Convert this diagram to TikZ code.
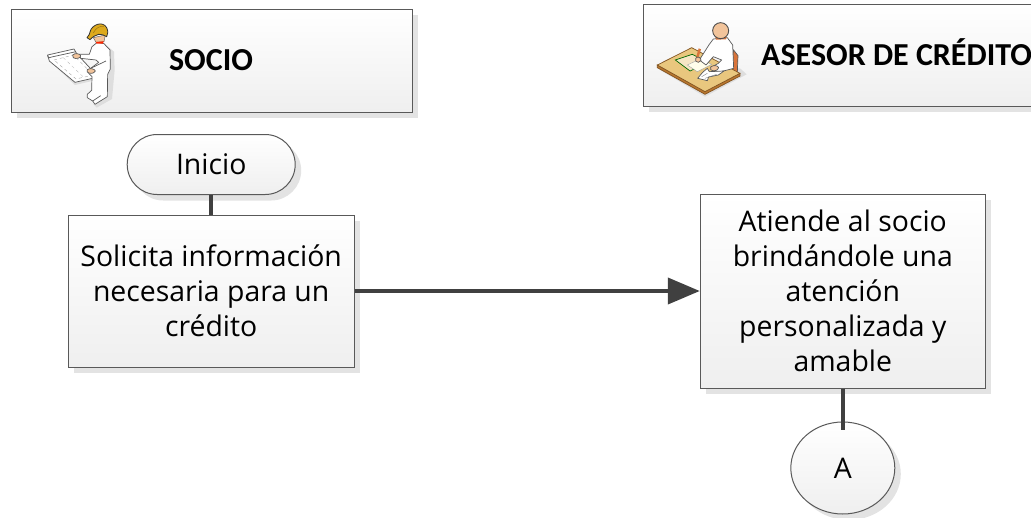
\documentclass[tikz,border=0pt]{standalone}
\usepackage{fontspec}
\setmainfont{Open Sans}
\newfontfamily\headfont{Carlito}
\usetikzlibrary{shadows,shapes.misc,shapes.geometric,arrows.meta}
\definecolor{edgegray}{HTML}{595959}
\definecolor{linkgray}{HTML}{404040}
\definecolor{shadegray}{HTML}{E3E3E3}
\definecolor{boxlow}{HTML}{EFEFEF}
\definecolor{helmet}{HTML}{DDA91C}
\definecolor{skin}{HTML}{F2C49B}
\definecolor{desktop}{HTML}{E9C77E}
\definecolor{deskedge}{HTML}{B9772F}
\definecolor{chairc}{HTML}{D9743A}
\tikzset{
  softshadow/.style={general shadow={shadow xshift=6pt,shadow yshift=-6pt,fill=shadegray}},
  shape base/.style={draw=edgegray,line width=1pt,top color=white,bottom color=boxlow,softshadow,inner sep=0pt,
    align=center,font=\fontsize{28.4}{35}\selectfont,text=black},
  header/.style={rectangle,shape base},
  headtext/.style={font=\headfont\bfseries\fontsize{32}{36}\selectfont,inner sep=0pt},
  stepbox/.style={rectangle,shape base},
  startbox/.style={rounded rectangle,shape base},
  linkdot/.style={ellipse,shape base},
  link/.style={draw=linkgray,line width=4pt},
  iconline/.style={draw=black!65,line width=0.7pt,line join=round},
  iconshade/.style={fill=black!13},
}
\begin{document}
\begin{tikzpicture}[x=1pt,y=-1pt]
\useasboundingbox (0,0) rectangle (1031,517);
\clip (0,0) rectangle (1031,517);
% headers
\node[header,minimum width=401pt,minimum height=103pt] (socio) at (211.5,60.5) {};
\node[header,minimum width=397pt,minimum height=102pt] (asesor) at (841.5,55) {};
\node[headtext] (sociot) at (211,60) {SOCIO};
\node[headtext,anchor=west] (asesort) at (761,52) {ASESOR DE CRÉDITO};
% flow shapes
\node[startbox,minimum width=168pt,minimum height=60pt,rounded rectangle arc length=180] (inicio) at (211.2,164.5) {Inicio};
\node[stepbox,minimum width=286pt,minimum height=152pt] (solicita) at (211.2,291) {Solicita información\\necesaria para un\\crédito};
\node[stepbox,minimum width=285pt,minimum height=194pt] (atiende) at (842.8,291) {Atiende al socio\\brindándole una\\atención\\personalizada y\\amable};
\node[linkdot,minimum width=104pt,minimum height=92pt] (a) at (842.8,468) {A};
% connectors
\draw[link] (inicio.south) -- (solicita.north);
\draw[link,-{Triangle[length=32pt,width=26pt]}] (solicita.east) -- (atiende.west);
\draw[link,shorten >=-8pt] (atiende.south) -- (a.north);
% worker icon
\begin{scope}[shift={(30,5)},x=0.3333pt,y=-0.3333pt]
  \fill[iconshade] (228,120) -- (252,140) -- (254,195) -- (246,282) -- (200,308) -- (190,298) -- (232,270) -- cycle;
  \fill[iconshade] (62,170) -- (135,240) -- (212,222) -- (205,210) -- cycle;
  \path[iconline,fill=white] (53,150) -- (132,132) -- (140,146) -- (205,216) -- (135,232) -- (58,168) -- cycle;
  \draw[iconline] (53,150) .. controls (52,160) and (62,160) .. (65,156) -- (138,140);
  \draw[black!35,dashed,line width=0.4pt] (72,165) -- (130,150) -- (190,210) -- (138,222) -- cycle;
  \draw[black!30,dashed,line width=0.3pt] (100,158) -- (160,216);
  \path[iconline,fill=white] (202,112) -- (222,116) -- (240,135) -- (241,192) -- (233,208) -- (232,275) -- (195,298) -- (188,288) -- (172,278) -- (172,268) -- (185,256) -- (186,215) -- (176,205) -- (182,190) -- (206,172) -- (198,165) -- (152,160) -- (148,148) -- (178,148) -- (186,125) -- cycle;
  \draw[iconline] (188,288) -- (212,272) (182,190) -- (228,168);
  \path[iconline,fill=skin] (128,150) .. controls (135,143) and (150,146) .. (152,152) .. controls (152,160) and (138,163) .. (130,158) -- cycle;
  \path[iconline,fill=skin] (172,194) .. controls (180,188) and (195,192) .. (196,198) .. controls (192,207) and (178,207) .. (172,201) -- cycle;
  \path[fill=skin,draw=black!60,line width=0.5pt] (190,98) -- (226,90) -- (222,110) -- (198,112) -- cycle;
  \fill[red!70!orange] (198,111) -- (221,109) -- (219,116) -- (200,116) -- cycle;
  \path[draw=black!80,line width=0.8pt,line join=round,fill=helmet] (171,98) .. controls (177,92) and (179,86) .. (181,78) .. controls (186,60) and (218,46) .. (230,68) .. controls (235,78) and (234,88) .. (230,95) .. controls (222,90) and (214,87) .. (206,88) .. controls (196,90) and (188,96) .. (180,104) -- cycle;
  \draw[helmet!70!black,line width=0.5pt] (190,84) .. controls (197,70) and (208,62) .. (222,64);
\end{scope}
% adviser icon
\begin{scope}[shift={(650,15)},x=0.3333pt,y=-0.3333pt]
  \fill[iconshade] (30,165) -- (165,245) -- (290,178) -- (270,160) -- cycle;
  \path[iconline,fill=chairc] (250,104) -- (264,122) -- (262,172) -- (246,165) -- cycle;
  \path[draw=deskedge!70!black,line width=0.7pt,fill=deskedge] (22,150) -- (22,158) -- (165,238) -- (270,183) -- (270,175) -- (165,228) -- cycle;
  \path[draw=deskedge!70!black,line width=0.7pt,fill=desktop] (22,150) -- (125,98) -- (270,175) -- (165,230) -- cycle;
  \path[draw=green!40!black,line width=0.7pt,fill=desktop!45!white] (76,135) -- (127,118) -- (175,143) -- (120,168) -- cycle;
  \path[draw=black!35,line width=0.4pt,fill=white!92!yellow] (112,150) -- (150,132) -- (185,148) -- (142,170) -- cycle;
  \path[iconline,fill=white] (190,72) -- (232,68) -- (248,90) -- (251,160) -- (205,172) -- (182,158) -- (205,145) -- (215,135) -- (190,125) -- (168,150) -- (148,135) -- (178,88) -- cycle;
  \path[iconline,fill=skin] (182,156) .. controls (190,150) and (202,150) .. (206,158) .. controls (204,168) and (188,170) .. (182,164) -- cycle;
  \fill[chairc] (146,100) -- (153,103) -- (144,132) -- (138,136) -- (138,128) -- cycle;
  \path[iconline,fill=skin] (137,130) .. controls (142,122) and (154,128) .. (153,136) .. controls (150,144) and (140,144) .. (137,138) -- cycle;
  \path[iconline,fill=white] (143,190) -- (158,172) -- (172,160) -- (178,170) -- (222,168) -- (205,180) -- (176,186) -- (172,197) -- cycle;
  \draw[black!50,line width=0.4pt] (155,185) -- (172,175) (165,190) -- (200,178);
  \fill[chairc] (196,66) -- (230,66) -- (228,73) -- (198,74) -- cycle;
  \path[draw=black!70,line width=0.9pt,fill=skin] (212,47) circle[radius=24];
\end{scope}
\end{tikzpicture}
\end{document}
